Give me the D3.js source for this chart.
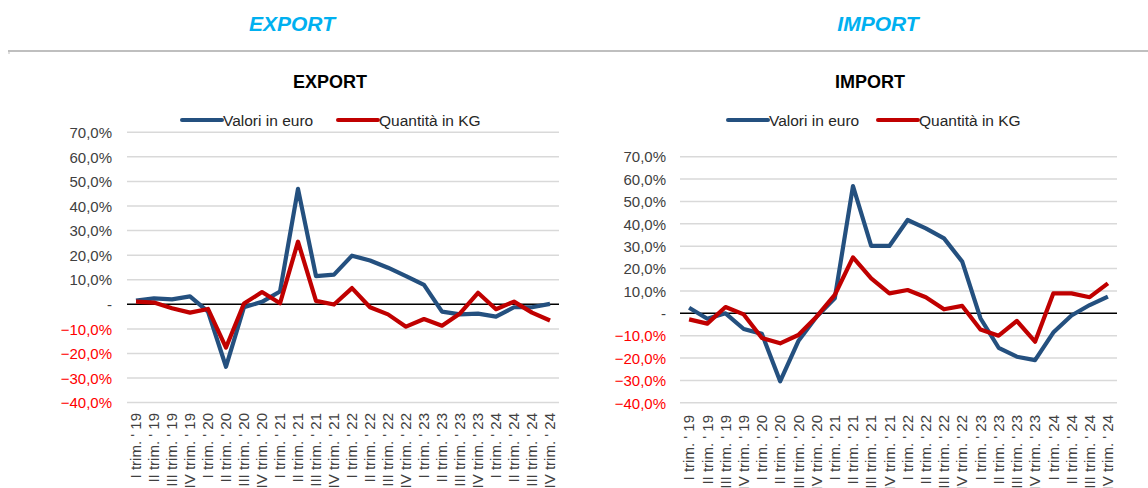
<!DOCTYPE html>
<html><head><meta charset="utf-8">
<script src="https://cdn.jsdelivr.net/npm/d3@7"></script>
<style>
html,body{margin:0;padding:0;background:#fff;overflow:hidden}
svg{display:block;font-family:"Liberation Sans",Arial,sans-serif}
</style></head>
<body>
<svg id="c" width="1148" height="488"></svg>
<script>
const categories = [
 "I trim. ' 19","II trim. ' 19","III trim. ' 19","IV trim. ' 19",
 "I trim. ' 20","II trim. ' 20","III trim. ' 20","IV trim. ' 20",
 "I trim. ' 21","II trim. ' 21","III trim. ' 21","IV trim. ' 21",
 "I trim. ' 22","II trim. ' 22","III trim. ' 22","IV trim. ' 22",
 "I trim. ' 23","II trim. ' 23","III trim. ' 23","IV trim. ' 23",
 "I trim. ' 24","II trim. ' 24","III trim. ' 24","IV trim. ' 24"];
const exportValori = [1.5,2.4,2.0,3.2,-3.0,-25.4,-1.2,1.0,5.2,47.0,11.5,12.1,19.8,17.8,14.9,11.5,7.9,-3.0,-4.1,-3.8,-5.0,-1.2,-1.2,0.2];
const exportQuantita = [1.1,0.7,-1.6,-3.4,-1.9,-17.6,0.3,5.0,0.4,25.5,1.4,-0.1,6.6,-1.2,-4.1,-9.1,-6.0,-8.7,-3.7,4.7,-2.0,1.1,-3.4,-6.6];
const importValori = [2.5,-2.4,0.0,-7.0,-9.2,-30.4,-12.4,-1.5,6.7,56.9,30.1,30.1,41.7,38.0,33.5,23.1,-2.2,-15.4,-19.4,-20.9,-8.6,-1.0,3.7,7.5];
const importQuantita = [-2.7,-4.6,2.8,-0.5,-11.0,-13.4,-9.7,-1.5,8.2,25.0,15.6,8.9,10.4,7.2,1.8,3.3,-7.2,-10.0,-3.4,-12.7,8.9,8.9,7.2,13.4];
const yTicks = [70,60,50,40,30,20,10,0,-10,-20,-30,-40];
const seriesNames = ["Valori in euro","Quantità in KG"];
const headers = ["EXPORT","IMPORT"];

const svg = d3.select("#c");
const BLUE = "#24507f", RED = "#c00000";

svg.append("line").attr("x1",8).attr("x2",1148).attr("y1",51).attr("y2",51)
  .attr("stroke","#bfbfbf").attr("stroke-width",2);
svg.append("line").attr("x1",9).attr("x2",9).attr("y1",50).attr("y2",54)
  .attr("stroke","#bfbfbf").attr("stroke-width",1);
[[292,headers[0]],[878,headers[1]]].forEach(([x,t])=>{
  svg.append("text").attr("x",x).attr("y",31).attr("text-anchor","middle")
    .attr("font-size",21).attr("font-weight","bold").attr("font-style","italic")
    .attr("fill","#00b0f0").text(t);
});

function chart(cfg){
  const g = svg.append("g");
  const x = d3.scaleBand().domain(categories).range([cfg.x0,cfg.x1]);
  const y = d3.scaleLinear().domain([-40,70]).range([cfg.yb,cfg.yt]);
  g.selectAll(".grid").data(yTicks.filter(d=>d!==0)).join("line")
    .attr("x1",cfg.x0).attr("x2",cfg.x1).attr("y1",d=>y(d)).attr("y2",d=>y(d))
    .attr("stroke","#d9d9d9").attr("stroke-width",1.5);
  const ya = d3.axisLeft(y).tickValues(yTicks).tickSize(0).tickPadding(0)
    .tickFormat(d=> d===0 ? "-" : d3.format(".1f")(d).replace(".",",")+"%");
  const ag = g.append("g").attr("transform",`translate(${cfg.lx},0)`).call(ya);
  ag.attr("font-size",null).attr("font-family",null);
  ag.select(".domain").remove();
  ag.selectAll("text").style("font-size","15px")
    .attr("fill",d=>d<0?"#ff0000":"#404040").attr("dy","0.35em");
  g.append("line").attr("x1",cfg.x0).attr("x2",cfg.x1).attr("y1",y(0)).attr("y2",y(0))
    .attr("stroke","#000").attr("stroke-width",1.5);
  const xa = d3.axisBottom(x).tickSize(0).tickPadding(0);
  const xg = g.append("g").attr("transform",`translate(0,${cfg.xl})`).call(xa);
  xg.attr("font-size",null).attr("font-family",null);
  xg.select(".domain").remove();
  xg.selectAll("text").style("font-size","15px")
    .attr("fill","#404040").attr("text-anchor","end")
    .attr("transform","rotate(-90)").attr("x",0).attr("y",0).attr("dy","0.35em");
  const line = d3.line().x((d,i)=>x(categories[i])+x.bandwidth()/2).y(d=>y(d));
  [[cfg.v,BLUE],[cfg.q,RED]].forEach(([data,col])=>{
    g.append("path").datum(data).attr("d",line).attr("fill","none")
      .attr("stroke",col).attr("stroke-width",4.2).attr("stroke-linejoin","round");
  });
  g.append("text").attr("x",cfg.tx).attr("y",88).attr("text-anchor","middle")
    .attr("font-size",18).attr("font-weight","bold").attr("fill","#000").text(cfg.title);
  const leg = [[cfg.l1,BLUE,seriesNames[0]],[cfg.l2,RED,seriesNames[1]]];
  leg.forEach(([lx,col,t])=>{
    g.append("line").attr("x1",lx).attr("x2",lx+40).attr("y1",120).attr("y2",120)
      .attr("stroke",col).attr("stroke-width",4).attr("stroke-linecap","round");
    g.append("text").attr("x",lx+41).attr("y",125.5).attr("font-size",15.5)
      .attr("fill","#262626").text(t);
  });
  return g;
}

chart({x0:127,x1:559,yt:132.3,yb:402.6,lx:112,xl:413,tx:330,title:"EXPORT",
  l1:182,l2:338,v:exportValori,q:exportQuantita});
chart({x0:680,x1:1117,yt:156.7,yb:402.8,lx:666,xl:415,tx:870,title:"IMPORT",
  l1:728,l2:878,v:importValori,q:importQuantita});
</script>
</body></html>
